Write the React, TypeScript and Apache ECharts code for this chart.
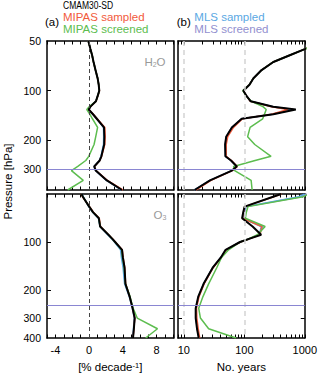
import React, { useEffect, useRef } from 'react';
import * as echarts from 'echarts';

// ---------- data ----------
const H2O_P = [50, 56, 61, 67, 75, 84, 92, 100, 108, 116, 125, 130, 139, 148, 167, 190, 212, 250, 265, 288, 305, 350, 400];
const H2O_TREND_CMAM = [-0.1, 0.15, 0.35, 0.52, 0.75, 1.0, 1.13, 1.2, 1.0, 0.8, 0.15, -0.05, 0.45, 0.9, 1.76, 1.8, 1.78, 1.45, 1.25, 0.6, 0.78, 2.1, 3.9];
const H2O_TREND_MIPAS_S = [-0.1, 0.15, 0.35, 0.52, 0.75, 1.0, 1.13, 1.22, 1.02, 0.82, 0.15, -0.05, 0.5, 0.95, 1.86, 1.9, 1.85, 1.47, 1.25, 0.62, 0.8, 2.15, 4.0];
const H2O_TREND_MIPAS_SCR = [-0.1, 0.15, 0.35, 0.52, 0.75, 1.0, 1.13, 1.2, 1.0, 0.8, 0.0, -0.28, 0.09, 0.39, 1.0, 0.78, 0.58, -0.05, -0.4, -1.35, -2.1, -0.7, -2.55];
const H2O_TREND_MLS_S = [-0.1, 0.15, 0.35, 0.52, 0.75, 1.0, 1.13, 1.2, 1.0, 0.8, 0.15, -0.05, 0.5, 0.95, 1.7, 1.72, 1.7, 1.4, 1.2, 0.58, 0.76, 2.05, 3.85];
const H2O_TREND_MLS_SCR = [-0.1, 0.15, 0.35, 0.52, 0.75, 1.0, 1.13, 1.2, 1.0, 0.8, 0.12, -0.1, 0.45, 0.9, 1.74, 1.78, 1.76, 1.43, 1.23, 0.6, 0.78, 2.1, 3.9];

const H2O_YEARS_CMAM = [2000, 990, 560, 300, 192, 141, 121, 96, 109, 127, 299, 705, 299, 90, 62, 50, 48, 48.5, 60, 75, 62, 27, 15];
const H2O_YEARS_MIPAS_S = [2000, 990, 560, 300, 192, 141, 121, 96, 109, 125, 280, 525, 280, 93, 66, 53, 50, 50, 61, 76, 63, 28, 15.8];
const H2O_YEARS_MIPAS_SCR = [2000, 990, 560, 300, 192, 141, 121, 94, 108, 130, 202, 229, 214, 200, 124, 113, 148, 275, 150, 66, 69, 129, 134];
const H2O_YEARS_MLS_S = [2000, 990, 560, 300, 192, 141, 121, 96, 109, 127, 290, 600, 290, 91, 63, 51, 48.5, 49, 60, 75, 62, 27, 15];
const H2O_YEARS_MLS_SCR = [2000, 990, 560, 300, 192, 141, 121, 96, 109, 127, 295, 640, 295, 90, 62, 50, 48, 48.5, 60, 75, 62, 27, 15];

const O3_P = [50, 52, 60, 65, 71, 80, 90, 96, 100, 112, 125, 145, 183, 220, 260, 300, 350, 400];
const O3_TREND_CMAM = [-0.9, -0.75, 0, 0.45, 1.15, 1.3, 2.28, 2.78, 3.08, 3.9, 4.0, 4.2, 4.3, 4.8, 5.15, 5.4, 5.3, 5.2];
const O3_TREND_MIPAS_S = [-0.95, -0.8, 0.05, 0.5, 1.2, 1.35, 2.3, 2.82, 3.1, 3.92, 4.02, 4.22, 4.32, 4.8, 5.15, 5.4, 5.3, 5.2];
const O3_TREND_MIPAS_SCR = [-0.9, -0.75, 0, 0.45, 1.15, 1.3, 2.28, 2.78, 3.05, 3.85, 3.95, 4.15, 4.3, 4.85, 5.2, 5.7, 8.1, 6.7];
const O3_TREND_MLS_S = [-0.85, -0.7, -0.05, 0.4, 1.1, 1.3, 2.2, 2.72, 3.0, 3.72, 3.82, 4.02, 4.2, 4.75, 5.12, 5.35, 5.25, 5.15];
const O3_TREND_MLS_SCR = [-0.9, -0.75, 0, 0.45, 1.15, 1.3, 2.25, 2.76, 3.04, 3.8, 3.9, 4.1, 4.25, 4.8, 5.18, 5.4, 5.3, 5.2];

const O3_YEARS_CMAM = [405, 300, 101, 96, 92, 137, 190, 116, 85, 49, 41, 30, 21.2, 17.3, 15.7, 15.7, 16.5, 17.6];
const O3_YEARS_MIPAS_S = [410, 305, 102, 97, 93, 195, 182, 117, 86, 50, 41.5, 30.5, 21.6, 17.8, 16.2, 16.4, 17.3, 18.3];
const O3_YEARS_MIPAS_SCR = [1200, 935, 115, 108, 104, 221, 165, 115, 85, 55, 42, 35, 25.7, 20.7, 17.6, 18.8, 25.7, 73];
const O3_YEARS_MLS_S = [1000, 800, 105, 98, 95, 190, 178, 117, 85, 50, 41, 30, 21.3, 17.5, 15.8, 15.9, 16.7, 17.8];
const O3_YEARS_MLS_SCR = [1100, 880, 108, 100, 97, 205, 172, 118, 85, 51, 41, 30, 21.3, 17.5, 15.8, 15.9, 16.7, 17.8];

const TREND_TICKS = [-5, -4, -3, -2, -1, 0, 1, 2, 3, 4, 5, 6, 7, 8, 9, 10];
const TREND_LABELS = [-4, 0, 4, 8];
const YEARS_TICKS = [8, 9, 10, 20, 30, 40, 50, 60, 70, 80, 90, 100, 200, 300, 400, 500, 600, 700, 800, 900, 1000];
const YEARS_LABELS = [10, 100, 1000];
const P_TICKS = [100, 200, 300];
const P_LABELS_TOP = [50, 100, 200, 300];
const P_LABELS_BOTTOM = [100, 200, 300, 400];
const TROPOPAUSE_H2O = 300;
const TROPOPAUSE_O3 = 250;

// ---------- styling ----------
const FONT = '"Liberation Sans", Arial, Helvetica, sans-serif';
const COL = {
  cmam: '#000000',
  mipasS: '#f25a3c',
  mipasScr: '#5dbd4f',
  mlsS: '#5aa8e3',
  mlsScr: '#9290cf',
};

const axisLine = { show: true, onZero: false, lineStyle: { color: '#000', width: 1.5 } };
const fmt = (v: number) => String(Math.round(v));

function mkX(gridIndex: number, log: boolean, position: string, labels: number[] | null, name?: string) {
  return {
    type: log ? 'log' : 'value',
    logBase: 10,
    gridIndex,
    position,
    min: log ? 8 : -5,
    max: log ? 1000 : 10,
    axisLine,
    splitLine: { show: false },
    axisTick: {
      show: true,
      inside: true,
      length: 3.5,
      customValues: log ? YEARS_TICKS : TREND_TICKS,
      lineStyle: { color: '#000', width: 1 },
    },
    axisLabel: labels
      ? { show: true, customValues: labels, formatter: fmt, fontSize: 11, color: '#000', fontFamily: FONT, margin: 6 }
      : { show: false },
    name: name || '',
    nameLocation: 'middle',
    nameGap: 23,
    nameTextStyle: {
      fontSize: 11.5,
      color: '#000',
      fontFamily: FONT,
      rich: { s: { fontSize: 7.5, verticalAlign: 'top', color: '#000', fontFamily: FONT } },
    },
  };
}

function mkY(gridIndex: number, position: string, labels: number[] | null) {
  return {
    type: 'log',
    logBase: 10,
    gridIndex,
    position,
    inverse: true,
    min: 50,
    max: 400,
    axisLine,
    splitLine: { show: false },
    axisTick: { show: true, inside: true, length: 4, customValues: P_TICKS, lineStyle: { color: '#000', width: 1 } },
    axisLabel: labels
      ? { show: true, customValues: labels, formatter: fmt, fontSize: 10.5, color: '#000', fontFamily: FONT, margin: 6 }
      : { show: false },
  };
}

function mkLine(xs: number[], ps: number[], color: string, width: number, idx: number, z: number, markLine?: any) {
  const s: any = {
    type: 'line',
    xAxisIndex: idx,
    yAxisIndex: idx,
    data: xs.map((v, i) => [v, ps[i]]),
    showSymbol: false,
    symbol: 'none',
    lineStyle: { color, width },
    itemStyle: { color },
    z,
    silent: true,
    clip: true,
    animation: false,
  };
  if (markLine) s.markLine = markLine;
  return s;
}

function marks(vlines: number[], vcolor: string, vwidth: number, vdash: number[], pLine: number) {
  return {
    silent: true,
    symbol: ['none', 'none'],
    label: { show: false },
    animation: false,
    emphasis: { disabled: true },
    data: [
      ...vlines.map((v) => ({ xAxis: v, lineStyle: { color: vcolor, width: vwidth, type: vdash } })),
      { yAxis: pLine, lineStyle: { color: '#8a86d2', width: 1, type: 'solid' } },
    ],
  };
}

function panel(idx: number, ps: number[], cmam: number[], mS: number[], mScr: number[], lS: number[], lScr: number[], mk: any) {
  return [
    mkLine(lScr, ps, COL.mlsScr, 1.5, idx, 2, mk),
    mkLine(lS, ps, COL.mlsS, 1.5, idx, 3),
    mkLine(mS, ps, COL.mipasS, 1.5, idx, 3),
    mkLine(mScr, ps, COL.mipasScr, 1.5, idx, 3),
    mkLine(cmam, ps, COL.cmam, 2, idx, 4),
  ];
}

function txt(x: number, y: number, text: string, fill: string, extra: any = {}, styleExtra: any = {}) {
  return {
    type: 'text',
    x,
    y,
    silent: true,
    ...extra,
    style: {
      text,
      fill,
      font: `11.5px ${FONT}`,
      textAlign: 'left',
      align: 'left',
      textVerticalAlign: 'middle',
      verticalAlign: 'middle',
      ...styleExtra,
    },
  };
}

export default function App() {
  const ref = useRef<HTMLDivElement>(null);

  useEffect(() => {
    if (!ref.current) return;
    const chart = echarts.init(ref.current, undefined, { renderer: 'svg' });

    const darkDash = marks([0], '#444', 1, [4, 3], TROPOPAUSE_H2O);
    const lightDash = marks([10, 100], '#d4d4d4', 1.5, [5, 4], TROPOPAUSE_H2O);
    const darkDashO3 = marks([0], '#444', 1, [4, 3], TROPOPAUSE_O3);
    const lightDashO3 = marks([10, 100], '#d4d4d4', 1.5, [5, 4], TROPOPAUSE_O3);

    const option: any = {
      animation: false,
      backgroundColor: '#fff',
      grid: [
        { left: 47, top: 41, width: 126.5, height: 149 },
        { left: 178, top: 41, width: 127, height: 149 },
        { left: 47, top: 194, width: 126.5, height: 149 },
        { left: 178, top: 194, width: 127, height: 149 },
      ],
      xAxis: [
        mkX(0, false, 'bottom', null),
        mkX(0, false, 'top', null),
        mkX(1, true, 'bottom', null),
        mkX(1, true, 'top', null),
        mkX(2, false, 'bottom', TREND_LABELS, '[% decade{s|-1}]'),
        mkX(2, false, 'top', null),
        mkX(3, true, 'bottom', YEARS_LABELS, 'No. years'),
        mkX(3, true, 'top', null),
      ],
      yAxis: [
        mkY(0, 'left', P_LABELS_TOP),
        mkY(0, 'right', null),
        mkY(1, 'left', null),
        mkY(1, 'right', null),
        mkY(2, 'left', P_LABELS_BOTTOM),
        mkY(2, 'right', null),
        mkY(3, 'left', null),
        mkY(3, 'right', null),
      ],
      series: [
        ...panel(0, H2O_P, H2O_TREND_CMAM, H2O_TREND_MIPAS_S, H2O_TREND_MIPAS_SCR, H2O_TREND_MLS_S, H2O_TREND_MLS_SCR, darkDash),
        ...panel(2, H2O_P, H2O_YEARS_CMAM, H2O_YEARS_MIPAS_S, H2O_YEARS_MIPAS_SCR, H2O_YEARS_MLS_S, H2O_YEARS_MLS_SCR, lightDash),
        ...panel(4, O3_P, O3_TREND_CMAM, O3_TREND_MIPAS_S, O3_TREND_MIPAS_SCR, O3_TREND_MLS_S, O3_TREND_MLS_SCR, darkDashO3),
        ...panel(6, O3_P, O3_YEARS_CMAM, O3_YEARS_MIPAS_S, O3_YEARS_MIPAS_SCR, O3_YEARS_MLS_S, O3_YEARS_MLS_SCR, lightDashO3),
      ],
      graphic: [
        txt(63, 5.5, 'CMAM30-SD', COL.cmam, { scaleX: 0.74 }),
        txt(63, 16.7, 'MIPAS sampled', COL.mipasS),
        txt(63, 29.2, 'MIPAS screened', COL.mipasScr),
        txt(194.3, 16.7, 'MLS sampled', COL.mlsS),
        txt(194.3, 29.2, 'MLS screened', COL.mlsScr),
        txt(45, 22, '(a)', '#000'),
        txt(176.7, 22, '(b)', '#000'),
        txt(7.5, 181.5, 'Pressure [hPa]', '#000', { rotation: Math.PI / 2 }, { textAlign: 'center', align: 'center' }),
        txt(155, 62, 'H{s|2}O', '#999', {}, {
          textAlign: 'center',
          align: 'center',
          rich: { s: { fontSize: 7, fill: '#999', verticalAlign: 'bottom', fontFamily: FONT } },
        }),
        txt(160, 215, 'O{s|3}', '#999', {}, {
          textAlign: 'center',
          align: 'center',
          rich: { s: { fontSize: 7, fill: '#999', verticalAlign: 'bottom', fontFamily: FONT } },
        }),
      ],
    };

    chart.setOption(option);
    return () => chart.dispose();
  }, []);

  return (
    <div
      ref={ref}
      style={{ position: 'fixed', left: 0, top: 0, width: 320, height: 374, background: '#fff' }}
    />
  );
}
